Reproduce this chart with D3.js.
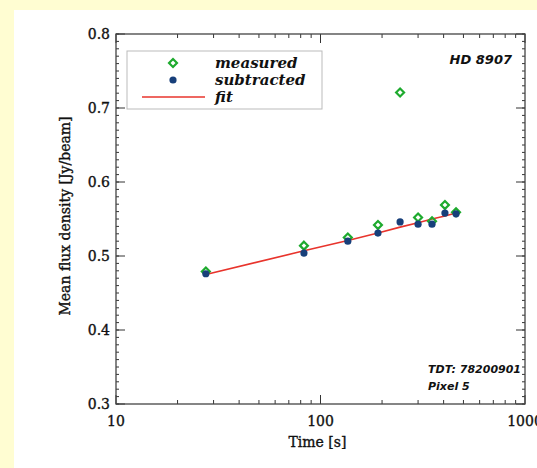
<!DOCTYPE html>
<html>
<head>
<meta charset="utf-8">
<script src="https://cdn.jsdelivr.net/npm/d3@7"></script>
<style>
  body { margin: 0; background: #fffdd2; }
  #chart { position: absolute; left: 0; top: 0; }
</style>
</head>
<body>
<div id="chart"></div>
<script>
// times of each integration [s]
const times = [27.5, 83, 136, 191, 245, 300, 351, 406, 460];
const measured = [0.479, 0.514, 0.525, 0.542, 0.721, 0.552, 0.547, 0.569, 0.559];
const subtracted = [0.476, 0.504, 0.520, 0.531, 0.546, 0.543, 0.543, 0.558, 0.557];
const fitValues = [0.475, 0.507, 0.521, 0.531, 0.539, 0.545, 0.550, 0.554, 0.558];
const xTicks = [10, 100, 1000];
const yTicks = [0.3, 0.4, 0.5, 0.6, 0.7, 0.8];

function init() {
    var w = 537, h = 468;
    var left = 116, right = 525, top = 34, bottom = 404;

    var svg = d3.select("#chart").append("svg")
        .attr("width", w)
        .attr("height", h);

    // white panel on the yellow page
    svg.append("rect").attr("x", 14).attr("y", 10)
        .attr("width", w - 14).attr("height", h - 10).attr("fill", "#ffffff");

    var x = d3.scaleLog().domain([10, 1000]).range([left, right]);
    var y = d3.scaleLinear().domain([0.3, 0.8]).range([bottom, top]);

    var tickColor = "#333";
    var serif = "'DejaVu Serif', serif";

    // minor ticks
    var xMinor = [];
    [10, 100].forEach(d => { for (let k = 2; k <= 9; k++) xMinor.push(d * k); });
    var yMinor = d3.range(30, 81).map(v => v / 100);

    var g = svg.append("g");
    xMinor.forEach(v => {
        g.append("line").attr("x1", x(v)).attr("x2", x(v)).attr("y1", bottom).attr("y2", bottom - 4).attr("stroke", tickColor);
        g.append("line").attr("x1", x(v)).attr("x2", x(v)).attr("y1", top).attr("y2", top + 4).attr("stroke", tickColor);
    });
    xTicks.forEach(v => {
        g.append("line").attr("x1", x(v)).attr("x2", x(v)).attr("y1", bottom).attr("y2", bottom - 9).attr("stroke", tickColor);
        g.append("line").attr("x1", x(v)).attr("x2", x(v)).attr("y1", top).attr("y2", top + 9).attr("stroke", tickColor);
    });
    yMinor.forEach(v => {
        g.append("line").attr("x1", left).attr("x2", left + 3).attr("y1", y(v)).attr("y2", y(v)).attr("stroke", tickColor);
        g.append("line").attr("x1", right).attr("x2", right - 3).attr("y1", y(v)).attr("y2", y(v)).attr("stroke", tickColor);
    });
    yTicks.forEach(v => {
        g.append("line").attr("x1", left).attr("x2", left + 9).attr("y1", y(v)).attr("y2", y(v)).attr("stroke", tickColor);
        g.append("line").attr("x1", right).attr("x2", right - 9).attr("y1", y(v)).attr("y2", y(v)).attr("stroke", tickColor);
    });

    // frame
    svg.append("rect").attr("x", left).attr("y", top)
        .attr("width", right - left).attr("height", bottom - top)
        .attr("fill", "none").attr("stroke", "#444").attr("stroke-width", 1.3);

    // tick labels
    function serifText(sel) {
        return sel.style("font-family", serif).style("font-size", "14px")
            .attr("fill", "#111").attr("stroke", "#111").attr("stroke-width", 0.35);
    }
    serifText(svg.selectAll(".ylab").data(yTicks).enter().append("text")
        .attr("x", left - 6).attr("y", d => y(d) + 5)
        .attr("text-anchor", "end"))
        .text(d => d.toFixed(1));
    serifText(svg.selectAll(".xlab").data(xTicks).enter().append("text")
        .attr("x", d => x(d)).attr("y", bottom + 22)
        .attr("text-anchor", "middle"))
        .text(d => d);

    serifText(svg.append("text")
        .attr("x", (left + right) / 2 - 3).attr("y", bottom + 43)
        .attr("text-anchor", "middle"))
        .text("Time [s]");

    serifText(svg.append("text")
        .attr("transform", "rotate(-90)")
        .attr("x", -(top + bottom) / 2 + 3).attr("y", 70)
        .attr("text-anchor", "middle"))
        .text("Mean flux density [Jy/beam]");

    // fit line
    var line = d3.line().x((d, i) => x(times[i])).y(d => y(d));
    svg.append("path").datum(fitValues)
        .attr("d", line).attr("fill", "none")
        .attr("stroke", "#e8342c").attr("stroke-width", 1.6);

    var diamond = d3.symbol().type(d3.symbolDiamond2).size(40);
    var green = "#1eaa2e", blue = "#173f7a";

    svg.selectAll(".meas").data(measured).enter().append("path")
        .attr("d", diamond)
        .attr("transform", (d, i) => `translate(${x(times[i])},${y(d)})`)
        .attr("fill", "none").attr("stroke", green).attr("stroke-width", 2.2);

    svg.selectAll(".sub").data(subtracted).enter().append("circle")
        .attr("cx", (d, i) => x(times[i])).attr("cy", d => y(d)).attr("r", 3.6)
        .attr("fill", blue);

    // legend
    var lx = 127, ly = 51;
    svg.append("rect").attr("x", lx).attr("y", ly).attr("width", 195).attr("height", 58)
        .attr("fill", "#fff").attr("stroke", "#bbb").attr("stroke-width", 1);
    var legFont = "'DejaVu Serif', serif";
    svg.append("path").attr("d", diamond)
        .attr("transform", `translate(173,63)`)
        .attr("fill", "none").attr("stroke", green).attr("stroke-width", 2.2);
    svg.append("circle").attr("cx", 173).attr("cy", 80).attr("r", 3.6).attr("fill", blue);
    svg.append("line").attr("x1", 142).attr("x2", 205).attr("y1", 97).attr("y2", 97)
        .attr("stroke", "#e8342c").attr("stroke-width", 1.6);
    [["measured", 68], ["subtracted", 85], ["fit", 102]].forEach(([t, yy]) => {
        svg.append("text").attr("x", 215).attr("y", yy)
            .style("font-family", legFont).style("font-size", "15px")
            .style("font-style", "italic").style("font-weight", "bold").attr("fill", "#111")
            .text(t);
    });

    // annotations
    var ann = "'DejaVu Sans', sans-serif";
    svg.append("text").attr("x", 512).attr("y", 64).attr("text-anchor", "end")
        .style("font-family", ann).style("font-size", "13px").style("font-style", "italic").style("font-weight", "bold")
        .attr("fill", "#111").text("HD 8907");
    svg.append("text").attr("x", 428).attr("y", 373)
        .style("font-family", ann).style("font-size", "11px").style("font-style", "italic").style("font-weight", "bold")
        .attr("fill", "#111").text("TDT: 78200901");
    svg.append("text").attr("x", 428).attr("y", 390)
        .style("font-family", ann).style("font-size", "11px").style("font-style", "italic").style("font-weight", "bold")
        .attr("fill", "#111").text("Pixel 5");
}

window.onload = init;
</script>
</body>
</html>
